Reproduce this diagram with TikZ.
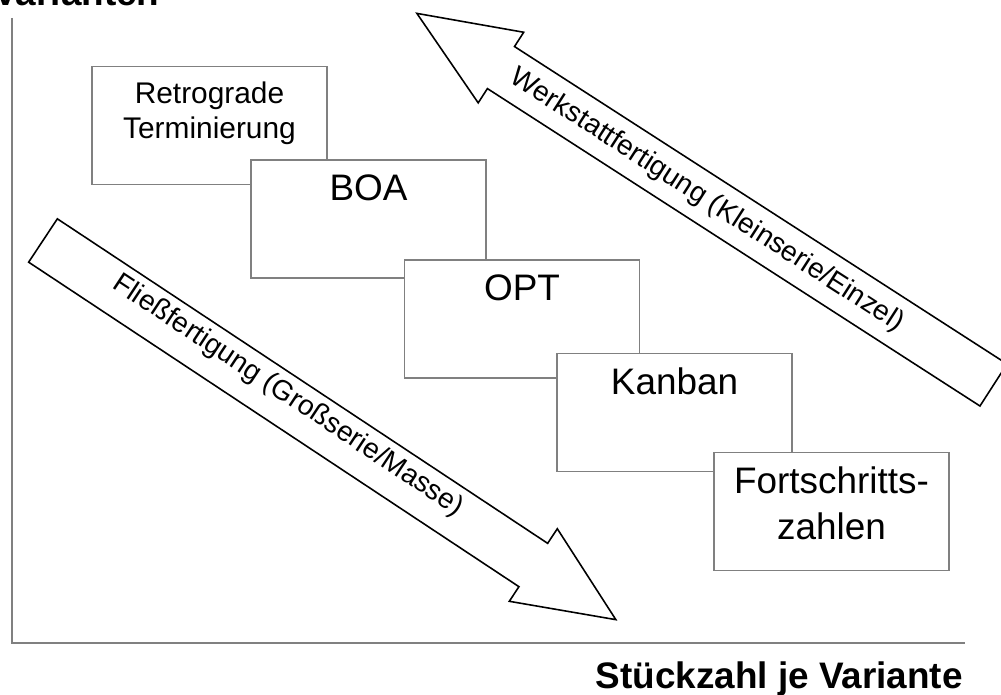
\documentclass[tikz,border=0pt]{standalone}
\usepackage{fontspec}
\setmainfont{Liberation Sans}
\usetikzlibrary{positioning}
\definecolor{rahmen}{RGB}{128,128,128}
\tikzset{
    stufe/.style={rectangle, draw=rahmen, fill=white, line width=0.8pt, minimum width=4.7cm, minimum height=2.36cm, inner sep=0pt},
    stufetext/.style={inner sep=0pt, align=center, font=\fontsize{21}{26}\selectfont},
    pfeil/.style={draw=black, fill=white, line width=0.9pt},
    pfeiltext/.style={inner sep=0pt, font=\fontsize{16}{19}\selectfont},
    achse/.style={draw=rahmen, line width=1.1pt},
    achstext/.style={inner sep=0pt, font=\bfseries\fontsize{21}{25}\selectfont}
}

\begin{document}
\begin{tikzpicture}[x=0.02cm, y=-0.02cm]
    \useasboundingbox (0,0) rectangle (1001,695);

    % Achsen
    \coordinate (ursprung) at (12,643);
    \coordinate (yende) at (12,18);
    \coordinate (xende) at (965,643);
    \draw[achse] (yende) -- (ursprung) -- (xende);
    \node[achstext, anchor=base west] (ylabel) at (-7,6) {Varianten};
    \node[achstext, anchor=base east] (xlabel) at (963,688) {Stückzahl je Variante};

    % Fliessfertigung
    \begin{scope}[shift={(43,240.5)}, rotate=-33.5]
        \draw[pfeil] (0,-26) -- (588,-26) -- (588,-43.5) -- (687,0) -- (588,43.5) -- (588,26) -- (0,26) -- cycle;
    \end{scope}
    \node[pfeiltext, rotate=-33.5] (fliess) at (288,396) {Fließfertigung (Großserie/Masse)};

    % Werkstattfertigung
    \begin{scope}[shift={(993.5,385)}, rotate=147.2]
        \draw[pfeil] (0,-25) -- (586,-25) -- (586,-42) -- (686,0) -- (586,42) -- (586,25) -- (0,25) -- cycle;
    \end{scope}
    \node[pfeiltext, rotate=-32.8] (werkstatt) at (707,200.5) {Werkstattfertigung (Kleinserie/Einzel)};

    % Verfahren
    \node[stufe] (retro) at (209.5,125.5) {};
    \node[stufetext, font=\fontsize{17}{20}\selectfont, below=0.32cm of retro.north] (retrotext) {Retrograde\\Terminierung};
    \node[stufe] (boa) at (368.5,219) {};
    \node[stufetext, below=0.3cm of boa.north] (boatext) {BOA};
    \node[stufe] (opt) at (522,319) {};
    \node[stufetext, below=0.3cm of opt.north] (opttext) {OPT};
    \node[stufe] (kanban) at (674.5,412.5) {};
    \node[stufetext, below=0.3cm of kanban.north] (kanbantext) {Kanban};
    \node[stufe] (fz) at (831.5,511.5) {};
    \node[stufetext, below=0.3cm of fz.north] (fztext) {Fortschritts-\\zahlen};
\end{tikzpicture}
\end{document}
